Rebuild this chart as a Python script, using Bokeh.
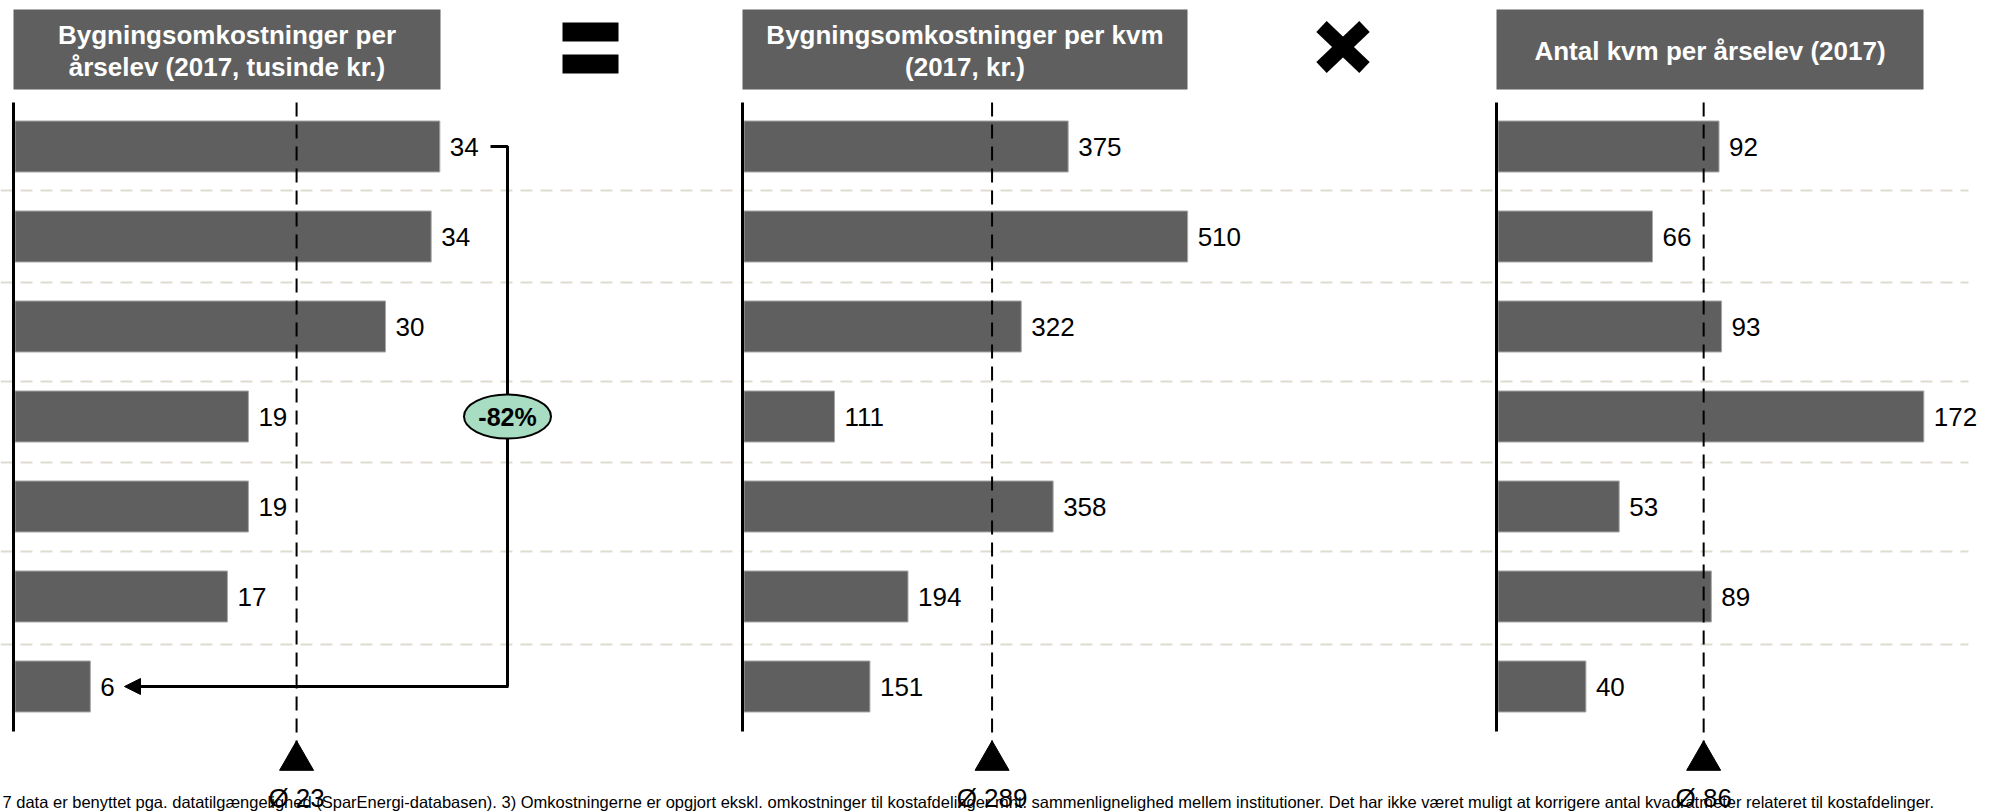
from bokeh.plotting import figure
from bokeh.models import Range1d, Arrow, NormalHead
from bokeh.core.properties import value
from bokeh.embed import file_html
from bokeh.resources import INLINE

# ---------------- data ----------------
row_ids = [0, 1, 2, 3, 4, 5, 6]
cost_per_student = [34.4, 33.7, 30.0, 18.9, 18.9, 17.2, 6.1]   # tusinde kr.
cost_per_sqm = [375, 510, 322, 111, 358, 194, 151]             # kr.
sqm_per_student = [92, 66, 93, 172, 53, 89, 40]                # kvm
averages = [22.8, 289, 86]
panel_titles = [
    ["Bygningsomkostninger per", "årselev (2017, tusinde kr.)"],
    ["Bygningsomkostninger per kvm", "(2017, kr.)"],
    ["Antal kvm per årselev (2017)"],
]
change_label = "-82%"
footnote = ("7 data er benyttet pga. datatilgængelighed (SparEnergi-databasen). "
            "3) Omkostningerne er opgjort ekskl. omkostninger til kostafdelinger mht. "
            "sammenlignelighed mellem institutioner. Det har ikke været muligt at korrigere "
            "antal kvadratmeter relateret til kostafdelinger.")

# ---------------- layout (page pixels) ----------------
FONT = value("Liberation Sans")
W, H = 1992, 811
X_LEFT, X_RIGHT = 0, 1992
Y_TOP, Y_BOT = 0, 811
ROW0, PITCH = 146, 90
BAR_H = 0.567
DARK = "#5f5f5f"

p = figure(width=W, height=H, x_range=Range1d(X_LEFT, X_RIGHT),
           y_range=Range1d(Y_BOT, Y_TOP), output_backend="svg",
           toolbar_location=None, x_axis_type=None, y_axis_type=None,
           min_border=0, outline_line_color=None,
           background_fill_color="white", border_fill_color="white")
p.grid.visible = False

# row scale: row index -> vertical position
p.extra_y_ranges = {"rows": Range1d((Y_BOT - ROW0) / PITCH, (Y_TOP - ROW0) / PITCH)}

# zero: pixel where the value scale starts; axis: pixel of the panel's base line
panels = [
    dict(name="p1", zero=14.5, scale=12.35, axis=13, box=(13, 440), values=cost_per_student),
    dict(name="p2", zero=735.8, scale=0.885, axis=742, box=(742, 1187), values=cost_per_sqm),
    dict(name="p3", zero=1483.0, scale=2.56, axis=1496, box=(1496, 1923), values=sqm_per_student),
]
for pn in panels:
    p.extra_x_ranges[pn["name"]] = Range1d((X_LEFT - pn["zero"]) / pn["scale"],
                                           (X_RIGHT - pn["zero"]) / pn["scale"])
    pn["base"] = max(0.0, (pn["axis"] + 1.5 - pn["zero"]) / pn["scale"])

# dashed row separators
sep_y = [190, 282, 381, 462, 551, 644]
p.multi_line(xs=[[0, 1968]] * len(sep_y), ys=[[y, y] for y in sep_y],
             line_color="#e0dbcf", line_width=2, line_dash="12 8")

for i, pn in enumerate(panels):
    rn = pn["name"]
    vals = pn["values"]
    # title box
    l, r = pn["box"]
    p.quad(left=[l], right=[r], top=[9], bottom=[89], fill_color=DARK, line_color=None)
    lines = panel_titles[i]
    ys = [34, 66] if len(lines) == 2 else [50]
    p.text(x=[(l + r) / 2] * len(lines), y=ys, text=lines, text_align="center",
           text_baseline="middle", text_color="white", text_font=FONT,
           text_font_style="bold", text_font_size="26px")
    # bars
    p.hbar(y=row_ids, left=pn["base"], right=vals, height=BAR_H, fill_color=DARK,
           line_color="#a8a8a8", line_width=1, x_range_name=rn, y_range_name="rows")
    p.text(x=vals, y=row_ids, text=[f"{round(v)}" for v in vals], x_offset=10,
           text_align="left", text_baseline="middle", text_font=FONT,
           text_font_size="26px", text_color="black", x_range_name=rn, y_range_name="rows")
    # axis line
    p.segment(x0=[pn["axis"]], x1=[pn["axis"]], y0=[102], y1=[731],
              line_color="black", line_width=3)
    # average
    avg = averages[i]
    p.segment(x0=[avg], x1=[avg], y0=[102], y1=[745], line_color="black",
              line_width=2, line_dash="14 8", x_range_name=rn)
    p.scatter(x=[avg], y=[760], marker="triangle", size=34, fill_color="black",
              line_color="black", x_range_name=rn)
    p.text(x=[avg], y=[797], text=[f"Ø {round(avg)}"], text_align="center",
           text_baseline="middle", text_font=FONT, text_font_size="26px",
           text_color="black", x_range_name=rn)

# "=" sign
p.quad(left=[562, 562], right=[618, 618], top=[22, 54], bottom=[41, 73],
       fill_color="black", line_color=None)
# "x" sign
p.segment(x0=[1321, 1364], y0=[26, 26], x1=[1364, 1321], y1=[67, 67],
          line_color="black", line_width=15, line_cap="butt")

# bracket from first to last row (panel 1)
p.line(x=[490, 507, 507, 507], y=[0, 0, 6, 6], line_color="black", line_width=3,
       y_range_name="rows")
p.add_layout(Arrow(end=NormalHead(size=16, fill_color="black", line_color="black"),
                   x_start=508, y_start=6, x_end=124, y_end=6, line_width=3,
                   line_color="black", y_range_name="rows"))
p.ellipse(x=[507], y=[416], width=87, height=44, fill_color="#a8dcc3",
          line_color="black", line_width=2)
p.text(x=[507], y=[416], text=[change_label], text_align="center",
       text_baseline="middle", text_font=FONT, text_font_style="bold",
       text_font_size="25px", text_color="black")

# footnote at the bottom edge
p.text(x=[2], y=[801], text=[footnote], text_align="left",
       text_baseline="alphabetic", text_font=FONT, text_font_size="16.5px",
       text_color="black")

open("out.html", "w").write(file_html(p, INLINE))
